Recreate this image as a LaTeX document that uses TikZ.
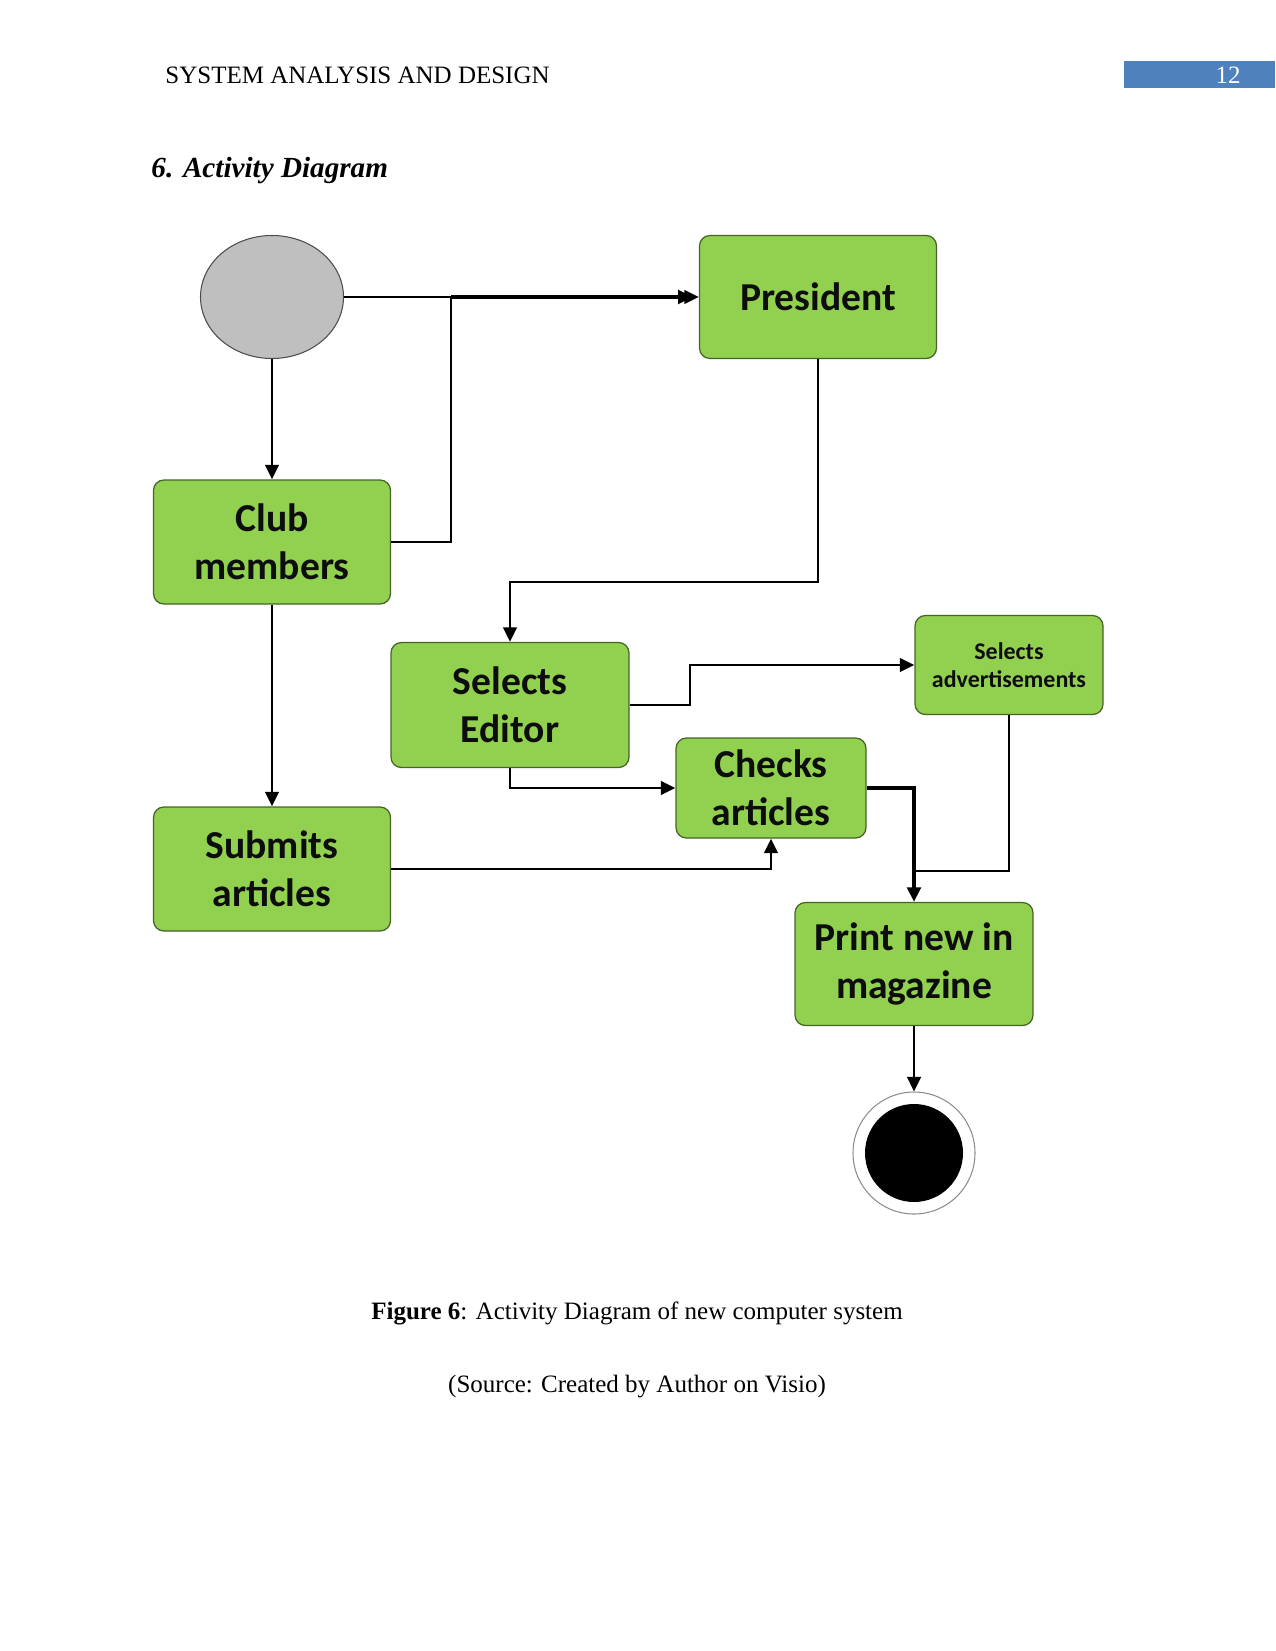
\documentclass[tikz,border=0pt]{standalone}
\usepackage{fontspec}
\setmainfont{Liberation Serif}
\newfontfamily\carlito{Carlito}
\usetikzlibrary{arrows.meta,shapes.geometric}
\definecolor{boxgreen}{RGB}{146,208,80}
\definecolor{boxedge}{RGB}{70,100,40}
\definecolor{hdrblue}{RGB}{79,129,189}
\definecolor{startgray}{RGB}{191,191,191}
\begin{document}
\begin{tikzpicture}[x=0.48pt,y=-0.48pt,
  box/.style={draw=boxedge, line width=0.6pt, fill=boxgreen, rounded corners=5pt,
    align=center, inner sep=0pt, text=black!95,
    font=\carlito\bfseries\fontsize{19}{23}\selectfont},
  smallbox/.style={box, font=\carlito\bfseries\fontsize{11.5}{13.5}\selectfont},
  conn/.style={line width=1.3pt, draw=black},
  thickconn/.style={line width=2pt, draw=black},
  arr/.style={-{Triangle[length=7pt,width=6.5pt]}}]
\useasboundingbox (0,0) rectangle (1275,1651);
\fill[white] (0,0) rectangle (1275,1651);

% header
\node[anchor=base west, font=\fontsize{12}{14}\selectfont, inner sep=0pt] (hdr) at (165,84) {SYSTEM ANALYSIS AND DESIGN};
\fill[hdrblue] (1124,61) rectangle (1275,88);
\node[text=white, font=\fontsize{12}{14}\selectfont, inner sep=0pt] (pg) at (1228,75) {12};
\node[anchor=base west, font=\fontsize{14}{16}\selectfont\bfseries\itshape, inner sep=0pt] (ttl) at (151,178) {6. Activity Diagram};

% nodes
\node[ellipse, draw=black!70, line width=0.5pt, fill=startgray, minimum width=143*0.48pt, minimum height=123*0.48pt, inner sep=0pt] (start) at (272,297) {};
\node[box, minimum width=237*0.48pt, minimum height=123*0.48pt] (pres) at (818,297) {President};
\node[box, minimum width=237*0.48pt, minimum height=124*0.48pt] (club) at (272,542) {Club\\members};
\node[box, minimum width=238*0.48pt, minimum height=125*0.48pt] (sed) at (510,705) {Selects\\Editor};
\node[smallbox, minimum width=188*0.48pt, minimum height=99*0.48pt] (ads) at (1009,665) {Selects\\advertisements};
\node[box, minimum width=190*0.48pt, minimum height=100*0.48pt] (chk) at (771,788) {Checks\\articles};
\node[box, minimum width=237*0.48pt, minimum height=124*0.48pt] (sub) at (272,869) {Submits\\articles};
\node[box, minimum width=238*0.48pt, minimum height=123*0.48pt] (prt) at (914,964) {Print new in\\magazine};
\node[circle, draw=black!45, line width=0.5pt, fill=white, minimum size=122*0.48pt, inner sep=0pt] (fin) at (914,1153) {};
\node[circle, fill=black, minimum size=98*0.48pt, inner sep=0pt] (fincore) at (fin.center) {};

% junction coordinates
\coordinate (j1) at (451,297);
\coordinate (c1) at (510,582);
\coordinate (c2) at (690,665);
\coordinate (c3) at (914,871);

% connectors
\draw[conn, arr] (start.east) -- (pres.west);
\draw[conn] (club.east) -| (j1);
\draw[thickconn, arr, shorten >=3pt] (j1) -- (pres.west);
\draw[conn, arr] (start.south) -- (club.north);
\draw[conn, arr] (pres.south) |- (c1) -- (sed.north);
\draw[conn, arr] (club.south) -- (sub.north);
\draw[conn, arr] (sed.east) -| (c2) -- (ads.west);
\draw[conn, arr] (sed.south) |- (chk.west);
\draw[conn, arr] (sub.east) -| (chk.south);
\draw[thickconn, arr] (chk.east) -| (prt.north);
\draw[conn] (ads.south) |- (c3);
\draw[conn, arr] (prt.south) -- (fin.north);

% caption
\node[font=\fontsize{12}{14}\selectfont, inner sep=0pt] (cap) at (637,1313) {\textbf{Figure 6}: Activity Diagram of new computer system};
\node[font=\fontsize{12}{14}\selectfont, inner sep=0pt] (src) at (637,1387) {(Source: Created by Author on Visio)};
\end{tikzpicture}
\end{document}
